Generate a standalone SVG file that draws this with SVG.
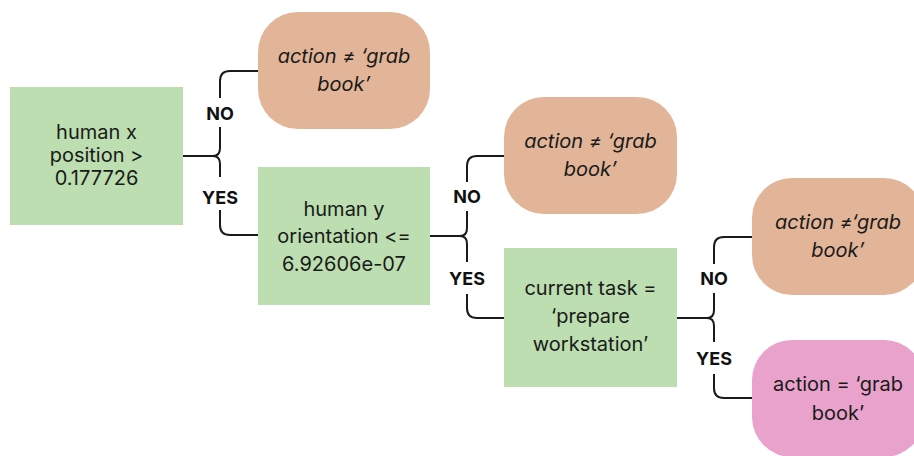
<svg xmlns="http://www.w3.org/2000/svg" width="914" height="456" viewBox="0 0 914 456">
<style>
.bg{fill:#ffffff}
.cond{fill:#bcdeb0}
.no{fill:#e2b598}
.yes{fill:#e8a2cc}
.t{font-family:Inter,"Liberation Sans",sans-serif;font-size:20px;fill:#1a1a1a;text-anchor:middle}
.i{font-style:italic}
.lbl{font-family:Inter,"Liberation Sans",sans-serif;font-size:18px;font-weight:bold;fill:#111111;text-anchor:middle}
.c{fill:none;stroke:#1a1a1a;stroke-width:2}
</style>
<rect class="bg" x="0" y="0" width="914" height="456"/>
<g id="connectors">
  <path class="c" d="M183,156 H213 Q220,156 220,148 V127 M220,98 V81 Q220,71 230,71 H258 M213,156 Q220,156 220,164 V177 M220,210 V225 Q220,235 230,235 H258"/>
  <path class="c" d="M430,236 H460 Q467,236 467,228 V211 M467,182 V166 Q467,156 477,156 H504 M460,236 Q467,236 467,244 V262 M467,294 V308 Q467,318 477,318 H504"/>
  <path class="c" d="M677,318 H707 Q714,318 714,310 V293 M714,264 V247 Q714,237 724,237 H752 M707,318 Q714,318 714,326 V342 M714,374 V388 Q714,398 724,398 H752"/>
  <text class="lbl" x="220" y="119.5">NO</text>
  <text class="lbl" x="220" y="203.5">YES</text>
  <text class="lbl" x="467" y="202.5">NO</text>
  <text class="lbl" x="467" y="284.5">YES</text>
  <text class="lbl" x="714" y="284.5">NO</text>
  <text class="lbl" x="714" y="364.5">YES</text>
</g>
<g id="n1">
  <rect class="cond" x="10" y="87" width="173" height="138"/>
  <text class="t" x="96.5" y="139">human x</text>
  <text class="t" x="96.5" y="162">position &gt;</text>
  <text class="t" x="96.5" y="185">0.177726</text>
</g>
<g id="n2">
  <rect class="no" x="258" y="12" width="172" height="117" rx="40"/>
  <text class="t i" x="344" y="63">action ≠ ‘grab</text>
  <text class="t i" x="344" y="91">book’</text>
</g>
<g id="n3">
  <rect class="cond" x="258" y="167" width="172" height="138"/>
  <text class="t" x="344" y="216">human y</text>
  <text class="t" x="344" y="243">orientation &lt;=</text>
  <text class="t" x="344" y="271">6.92606e-07</text>
</g>
<g id="n4">
  <rect class="no" x="504" y="97" width="173" height="117" rx="40"/>
  <text class="t i" x="590.5" y="148">action ≠ ‘grab</text>
  <text class="t i" x="590.5" y="176">book’</text>
</g>
<g id="n5">
  <rect class="cond" x="504" y="248" width="173" height="139"/>
  <text class="t" x="590.5" y="295">current task =</text>
  <text class="t" x="590.5" y="323">‘prepare</text>
  <text class="t" x="590.5" y="351">workstation’</text>
</g>
<g id="n6">
  <rect class="no" x="752" y="178" width="172" height="117" rx="40"/>
  <text class="t i" x="838" y="229">action ≠‘grab</text>
  <text class="t i" x="838" y="257">book’</text>
</g>
<g id="n7">
  <rect class="yes" x="752" y="340" width="172" height="117" rx="40"/>
  <text class="t" x="838" y="391">action = ‘grab</text>
  <text class="t" x="838" y="420">book’</text>
</g>
</svg>
